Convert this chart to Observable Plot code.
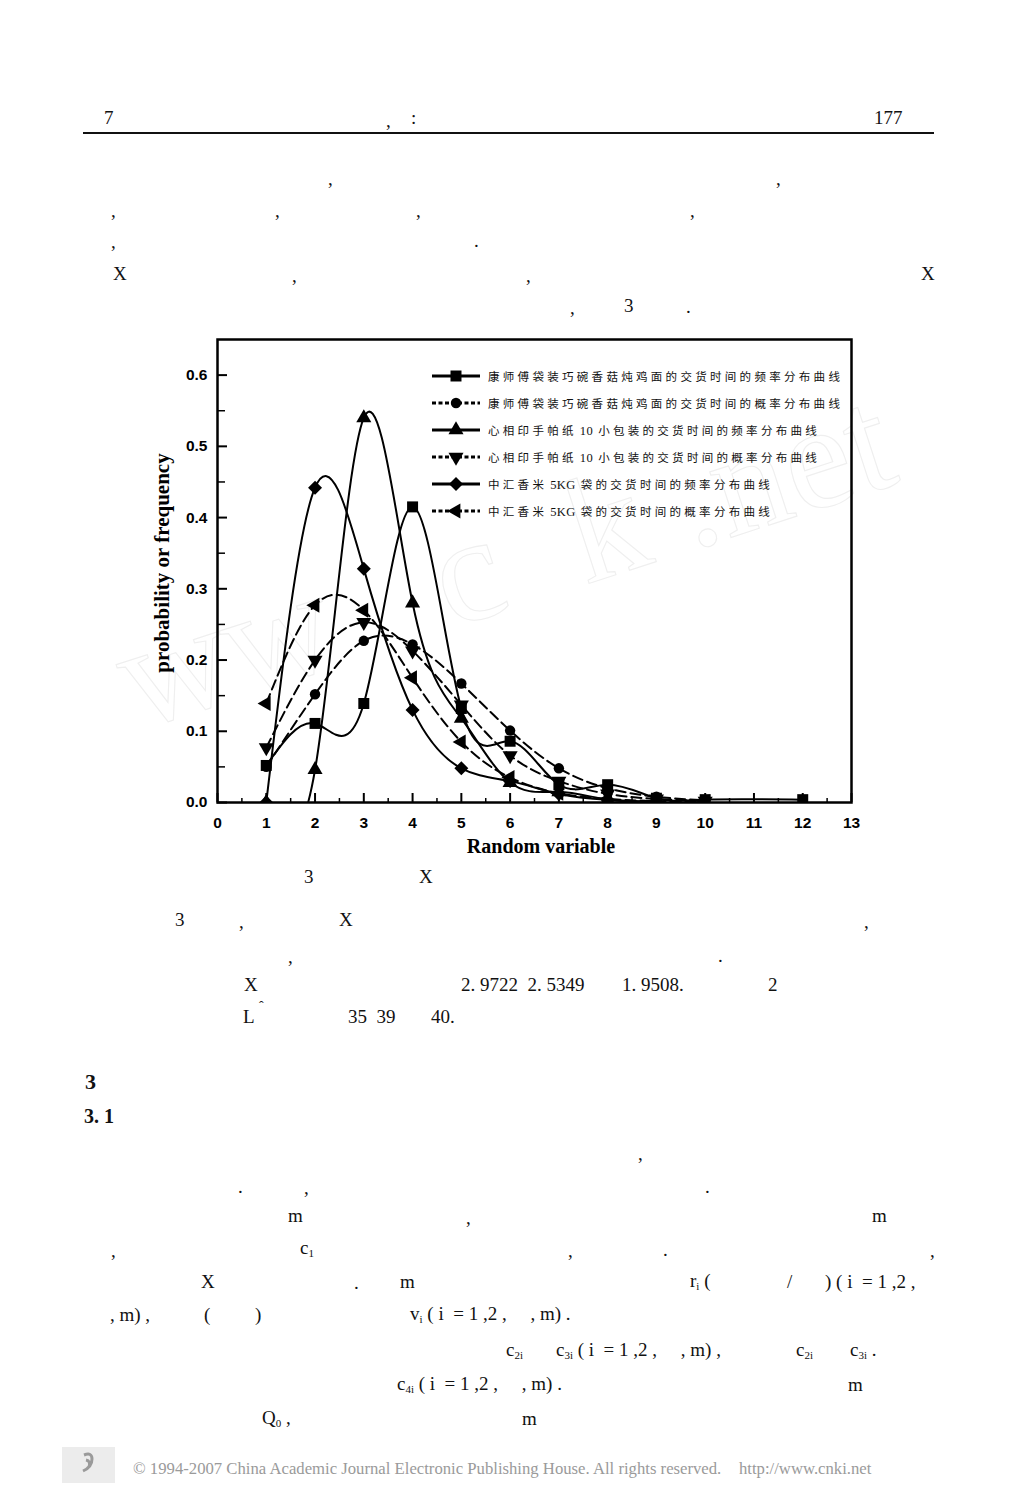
<!DOCTYPE html>
<html>
<head>
<meta charset="utf-8">
<script src="https://cdn.jsdelivr.net/npm/d3@7"></script>
<script src="https://cdn.jsdelivr.net/npm/@observablehq/plot@0.6"></script>
<style>
  html, body { margin: 0; padding: 0; background: #fff; }
  #page { position: relative; width: 1017px; height: 1509px; overflow: hidden; background: #fff;
          font-family: "Liberation Serif", "DejaVu Serif", serif; color: #111; }
  .t { position: absolute; white-space: nowrap; line-height: 1; transform: translateY(-50%); font-size: 19px; }
  .t sub { font-size: 11px; vertical-align: -3px; }
  #chart { position: absolute; left: 140px; top: 330px; }
  #legend { position: absolute; left: 430px; top: 366px; }
  .lrow { position: absolute; left: 0; height: 20px; display: flex; align-items: center; white-space: nowrap; }
  .lrow .txt { margin-left: 6px; color: #111; }
  .lrow .cjk { font-family: "Noto Sans CJK SC", sans-serif; font-size: 11.5px; letter-spacing: 3.3px; }
  .lrow .lat { font-family: "Liberation Serif", serif; font-size: 12.5px; letter-spacing: 0.4px; margin: 0 5px 0 3px; }
  .axt { position: absolute; font-weight: bold; color: #000; white-space: nowrap; }
  #wm { position: absolute; left: 95px; top: 600px; font-size: 150px; color: transparent;
        -webkit-text-stroke: 1.1px #efefef; transform: rotate(-18deg); transform-origin: left top; white-space: pre; font-family: "Liberation Serif", serif; }
</style>
</head>
<body>
<div id="page"></div>
<script>
// ---------------- data ----------------
const xs = [1, 2, 3, 4, 5, 6, 7, 8, 9, 10, 11, 12];
// 康师傅袋装巧碗香菇炖鸡面 — frequency (solid, square)
const kangFreq = [0.052, 0.111, 0.139, 0.415, 0.132, 0.086, 0.025, 0.025, 0.006, 0.004, null, 0.004];
// 康师傅 — probability (dashed, circle)
const kangProb = [0.050, 0.152, 0.227, 0.222, 0.167, 0.101, 0.048, 0.020, 0.008, 0.003, null, null];
// 心相印手帕纸10小包装 — frequency (solid, triangle up)
const xinFreq = [0.000, 0.046, 0.540, 0.280, 0.118, 0.028, 0.015, 0.004, 0.001, null, null, null];
// 心相印 — probability (dashed, triangle down)
const xinProb = [0.077, 0.200, 0.253, 0.213, 0.137, 0.066, 0.030, 0.012, 0.005, 0.002, null, null];
// 中汇香米5KG袋 — frequency (solid, diamond)
const zhongFreq = [0.000, 0.442, 0.328, 0.130, 0.048, 0.030, 0.012, 0.004, 0.001, null, null, null];
// 中汇香米 — probability (dashed, triangle left)
const zhongProb = [0.139, 0.277, 0.270, 0.175, 0.085, 0.035, 0.013, 0.005, 0.002, 0.001, null, null];

const seriesNames = [
  "康师傅袋装巧碗香菇炖鸡面的交货时间的频率分布曲线",
  "康师傅袋装巧碗香菇炖鸡面的交货时间的概率分布曲线",
  "心相印手帕纸 10 小包装的交货时间的频率分布曲线",
  "心相印手帕纸 10 小包装的交货时间的概率分布曲线",
  "中汇香米 5KG 袋的交货时间的频率分布曲线",
  "中汇香米 5KG 袋的交货时间的概率分布曲线"
];
const seriesValues = [kangFreq, kangProb, xinFreq, xinProb, zhongFreq, zhongProb];
const xMajorTicks = [0, 1, 2, 3, 4, 5, 6, 7, 8, 9, 10, 11, 12, 13];
const xMinorTicks = [0.5, 1.5, 2.5, 3.5, 4.5, 5.5, 6.5, 7.5, 8.5, 9.5, 10.5, 11.5, 12.5];
const yMajorTicks = [0, 0.1, 0.2, 0.3, 0.4, 0.5, 0.6];
const yMinorTicks = [0.05, 0.15, 0.25, 0.35, 0.45, 0.55];
const xTitle = "Random variable";
const yTitle = "probability or frequency";

// ---------------- styles per series ----------------
const styles = [
  {symbol: "square",   r: 6.2, rotate: 0,   dash: null},
  {symbol: "circle",   r: 5.2, rotate: 0,   dash: "10,5"},
  {symbol: "triangle", r: 5.6, rotate: 0,   dash: null},
  {symbol: "triangle", r: 5.6, rotate: 180, dash: "10,5"},
  {symbol: "diamond2", r: 6.3, rotate: 0,   dash: null},
  {symbol: "triangle", r: 5.6, rotate: -90, dash: "10,5"}
];

const series = seriesValues.map((vals, i) =>
  xs.map((x, j) => ({x, y: vals[j], s: i})).filter(d => d.y != null)
);

// ---------------- page text ----------------
const page = document.getElementById("page");
const pageText = [
  [104,117,"7"],[386,120,","],[411,117,":"],[874,117,"177"],
  [328,178,","],[776,178,","],
  [111,210,","],[275,210,","],[416,210,","],[690,210,","],
  [111,241,","],[474,240,"."],
  [113,273,"X"],[292,275,","],[526,275,","],[921,273,"X"],
  [570,307,","],[624,305,"3"],[686,306,"."],
  [304,876,"3"],[419,876,"X"],
  [175,919,"3"],[239,921,","],[339,919,"X"],[864,921,","],
  [288,956,","],[718,955,"."],
  [244,984,"X"],[461,984,"2. 9722&nbsp; 2. 5349"],[622,984,"1. 9508."],[768,984,"2"],
  [243,1016,"L"],[348,1016,"35&nbsp; 39"],[431,1016,"40."],
  [638,1153,","],
  [238,1186,"."],[304,1187,","],[705,1186,"."],
  [288,1215,"m"],[466,1217,","],[872,1215,"m"],
  [111,1250,","],[300,1248,"c<sub>1</sub>"],[568,1250,","],[663,1249,"."],[930,1250,","],
  [201,1281,"X"],[354,1282,"."],[400,1281,"m"],[690,1281,"r<sub>i</sub> ("],[787,1281,"/"],[825,1281,") ( i&nbsp; = 1 ,2 ,"],
  [110,1314,", m) ,"],[204,1314,"("],[255,1314,")"],[410,1314,"v<sub>i</sub> ( i&nbsp; = 1 ,2 ,&nbsp;&nbsp;&nbsp;&nbsp; , m) ."],
  [506,1350,"c<sub>2i</sub>"],[556,1350,"c<sub>3i</sub> ( i&nbsp; = 1 ,2 ,&nbsp;&nbsp;&nbsp;&nbsp; , m) ,"],[796,1350,"c<sub>2i</sub>"],[850,1350,"c<sub>3i</sub> ."],
  [397,1384,"c<sub>4i</sub> ( i&nbsp; = 1 ,2 ,&nbsp;&nbsp;&nbsp;&nbsp; , m) ."],[848,1384,"m"],
  [262,1418,"Q<sub>0</sub> ,"],[522,1418,"m"]
];
for (const [x, y, h] of pageText) {
  const d = document.createElement("div");
  d.className = "t"; d.style.left = x + "px"; d.style.top = y + "px"; d.innerHTML = h;
  page.appendChild(d);
}
function addText(x, y, h, css) {
  const d = document.createElement("div");
  d.className = "t"; d.style.left = x + "px"; d.style.top = y + "px"; d.innerHTML = h;
  Object.assign(d.style, css || {});
  page.appendChild(d);
  return d;
}
addText(259, 1007, "ˆ", {fontSize: "14px"});
addText(85, 1082, "3", {fontWeight: "bold", fontSize: "22px"});
addText(84, 1116, "3. 1", {fontWeight: "bold", fontSize: "20px"});
addText(133, 1469, "© 1994-2007 China Academic Journal Electronic Publishing House. All rights reserved.", {fontSize: "16.7px", color: "#9a9a9a"});
addText(739, 1469, "http://www.cnki.net", {fontSize: "16.7px", color: "#9a9a9a"});

// header rule
const rule = document.createElement("div");
Object.assign(rule.style, {position: "absolute", left: "83px", top: "132px", width: "851px", height: "2px", background: "#111"});
page.appendChild(rule);
// footer logo box
const logo = document.createElement("div");
Object.assign(logo.style, {position: "absolute", left: "62px", top: "1447px", width: "53px", height: "36px", background: "#ececec"});
logo.innerHTML = '<svg width="53" height="36"><path d="M22 8 q8 -3 8 4 q0 8 -9 12 M24 13 q5 1 3 7" stroke="#9a9a9a" stroke-width="3" fill="none"/></svg>';
page.appendChild(logo);

// watermark
const wm = document.createElement("div");
wm.id = "wm"; wm.textContent = "ww   c  k .net";
page.appendChild(wm);

// ---------------- chart ----------------
const W = 740, H = 540, mL = 77, mR = 29, mT = 9, mB = 68;
const frameW = W - mL - mR, frameH = H - mT - mB;

const marks = [];
series.forEach((data, i) => {
  const st = styles[i];
  marks.push(Plot.line(data, {x: "x", y: "y", curve: "natural", stroke: "#000", strokeWidth: 2,
    strokeDasharray: st.dash, clip: true}));
});
series.forEach((data, i) => {
  const st = styles[i];
  marks.push(Plot.dot(data, {x: "x", y: "y", symbol: st.symbol, r: st.r, rotate: st.rotate,
    fill: "#000", stroke: "none", clip: true}));
});
marks.push(
  Plot.tickX(xMajorTicks, {x: d => d, insetTop: frameH - 9, strokeWidth: 2, stroke: "#000"}),
  Plot.tickX(xMinorTicks, {x: d => d, insetTop: frameH - 4, strokeWidth: 1.5, stroke: "#000"}),
  Plot.tickY(yMajorTicks, {y: d => d, insetRight: frameW - 10, strokeWidth: 2, stroke: "#000"}),
  Plot.tickY(yMinorTicks, {y: d => d, insetRight: frameW - 8, strokeWidth: 1.5, stroke: "#000"}),
  Plot.axisX({ticks: xMajorTicks, tickSize: 0, tickPadding: 14, label: null, tickFormat: d => String(d),
    fontSize: 15.5, fontWeight: "bold", fill: "#000"}),
  Plot.axisY({ticks: yMajorTicks, tickSize: 0, tickPadding: 10, label: null, tickFormat: d3.format(".1f"),
    fontSize: 15.5, fontWeight: "bold", fill: "#000"}),
  Plot.frame({stroke: "#000", strokeWidth: 2.5})
);

const chart = Plot.plot({
  width: W, height: H,
  marginLeft: mL, marginRight: mR, marginTop: mT, marginBottom: mB,
  x: {domain: [0, 13]},
  y: {domain: [0, 0.65]},
  style: {background: "transparent", fontFamily: "'Liberation Sans', Arial, sans-serif", fontSize: "15.5px", fontWeight: "bold", color: "#000", overflow: "visible"},
  marks
});
chart.id = "chart";
page.appendChild(chart);

// axis titles
const xt = document.createElement("div");
xt.className = "axt"; xt.textContent = xTitle;
Object.assign(xt.style, {left: "541px", top: "846px", fontSize: "20px", transform: "translate(-50%,-50%)"});
page.appendChild(xt);
const yt = document.createElement("div");
yt.className = "axt"; yt.textContent = yTitle;
Object.assign(yt.style, {left: "162px", top: "563px", fontSize: "21px", transform: "translate(-50%,-50%) rotate(-90deg)"});
page.appendChild(yt);

// legend
const legend = document.createElement("div");
legend.id = "legend";
seriesNames.forEach((name, i) => {
  const st = styles[i];
  const row = document.createElement("div");
  row.className = "lrow";
  row.style.top = (i * 27) + "px";
  const sw = d3.create("svg").attr("width", 52).attr("height", 20);
  sw.append("line").attr("x1", 2).attr("x2", 50).attr("y1", 10).attr("y2", 10)
    .attr("stroke", "#000").attr("stroke-width", 3)
    .attr("stroke-dasharray", st.dash ? "4,2.5" : null);
  const typ = {square: d3.symbolSquare, circle: d3.symbolCircle, triangle: d3.symbolTriangle, diamond2: d3.symbolDiamond2}[st.symbol];
  sw.append("path").attr("d", d3.symbol(typ, Math.PI * st.r * st.r)())
    .attr("transform", `translate(26,10) rotate(${st.rotate})`).attr("fill", "#000");
  row.appendChild(sw.node());
  const txt = document.createElement("span");
  txt.className = "txt";
  for (const part of name.match(/[\u3400-\u9fff]+|[^\u3400-\u9fff]+/g)) {
    const sp = document.createElement("span");
    const isCjk = /[\u3400-\u9fff]/.test(part);
    sp.className = isCjk ? "cjk" : "lat";
    sp.textContent = isCjk ? part : part.trim();
    txt.appendChild(sp);
  }
  row.appendChild(txt);
  legend.appendChild(row);
});
page.appendChild(legend);
</script>
</body>
</html>
